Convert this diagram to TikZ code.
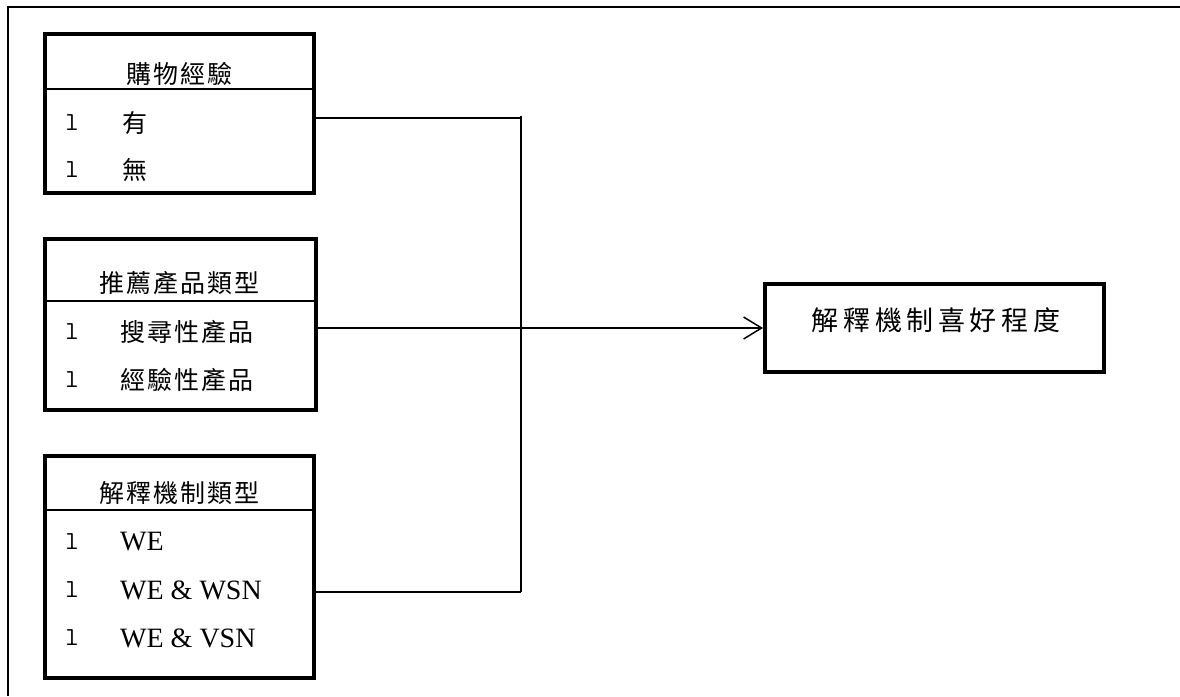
\documentclass[tikz,border=0pt]{standalone}
\usepackage{fontspec}
\setmainfont{Liberation Serif}
\newfontfamily\cjk[LetterSpace=8]{Noto Sans CJK TC}
\newfontfamily\cjkwide[LetterSpace=17]{Noto Sans CJK TC}
\usetikzlibrary{arrows.meta}
\begin{document}
\begin{tikzpicture}[x=1pt,y=-1pt,
  box/.style={draw=black,line width=4pt,rectangle,inner sep=0pt},
  divider/.style={line width=1.4pt},
  conn/.style={line width=1.5pt},
  hdr/.style={inner sep=0pt,font=\fontsize{25}{30}\selectfont\cjk},
  itemc/.style={inner sep=0pt,anchor=west,font=\fontsize{25}{30}\selectfont\cjk},
  iteml/.style={inner sep=0pt,anchor=west,font=\fontsize{28}{32}\selectfont},
  bul/.style={inner sep=0pt,font=\fontsize{26}{30}\selectfont\ttfamily},
  res/.style={inner sep=0pt,font=\fontsize{27}{32}\selectfont\cjkwide}]
\useasboundingbox (0,0) rectangle (1180,696);
% outer frame (top and left edges visible)
\draw[line width=1.3pt] (1180,7) -- (8,7) -- (8,696);

% box 1
\node[box,minimum width=269pt,minimum height=159pt] (b1) at (179.5,113.5) {};
\draw[divider] (45,89) -- (314,89);
\node[hdr] (h1) at (179,73.5) {購物經驗};
\node[bul] (l11) at (72,123) {l};
\node[itemc] (t11) at (122,123) {有};
\node[bul] (l12) at (72,170) {l};
\node[itemc] (t12) at (122,170) {無};

% box 2
\node[box,minimum width=271pt,minimum height=171pt] (b2) at (180.5,324.5) {};
\draw[divider] (45,301) -- (316,301);
\node[hdr] (h2) at (179,283) {推薦產品類型};
\node[bul] (l21) at (72,332) {l};
\node[itemc] (t21) at (120,332) {搜尋性產品};
\node[bul] (l22) at (72,380) {l};
\node[itemc] (t22) at (120,380) {經驗性產品};

% box 3
\node[box,minimum width=269pt,minimum height=222pt] (b3) at (179.5,567) {};
\draw[divider] (45,510) -- (314,510);
\node[hdr] (h3) at (179,493) {解釋機制類型};
\node[bul] (l31) at (72,542) {l};
\node[iteml] (t31) at (120,542) {WE};
\node[bul] (l32) at (72,590) {l};
\node[iteml] (t32) at (120,590) {WE \& WSN};
\node[bul] (l33) at (72,638) {l};
\node[iteml] (t33) at (120,638) {WE \& VSN};

% result box
\node[box,minimum width=339pt,minimum height=88pt] (b4) at (934.5,328) {};
\node[res] (h4) at (936,320) {解釋機制喜好程度};

% connectors
\coordinate (j1) at (521,118);
\coordinate (j3) at (521,592);
\coordinate (j0) at (521,116);
\draw[conn] (b1.east |- j1) -- (j1);
\draw[conn] (j0) -- (j3);
\draw[conn] (b3.east |- j3) -- (j3);
\draw[conn,-{Straight Barb[length=18pt,width=22pt,line width=1.5pt]}] (b2.east |- b4.west) -- (b4.west);
\end{tikzpicture}
\end{document}
